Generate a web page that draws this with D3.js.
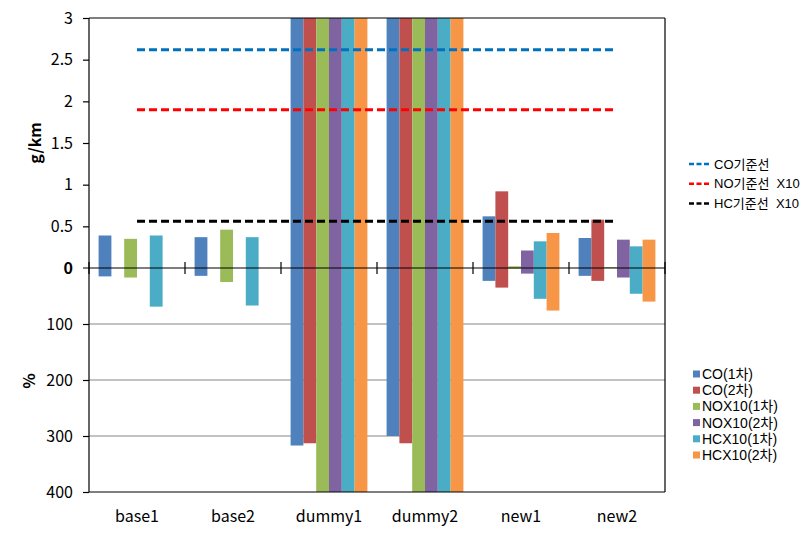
<!DOCTYPE html>
<html>
<head>
<meta charset="utf-8">
<script src="https://cdn.jsdelivr.net/npm/d3@7/dist/d3.min.js"></script>
<style>
  html, body { margin: 0; padding: 0; background: #fff; }
  svg { display: block; }
  text { font-family: "Malgun Gothic", "Noto Sans CJK KR", "Noto Sans", sans-serif; fill: #000; }
  .legend text { font-family: "Liberation Sans", "Noto Sans CJK KR", sans-serif; }
</style>
</head>
<body>
<svg id="chart" width="801" height="537"></svg>
<script>
// ---- data ----
const categories = ["base1", "base2", "dummy1", "dummy2", "new1", "new2"];
const seriesNames = ["CO(1차)", "CO(2차)", "NOX10(1차)", "NOX10(2차)", "HCX10(1차)", "HCX10(2차)"];
const seriesColors = ["#4F81BD", "#C0504D", "#9BBB59", "#8064A2", "#4BACC6", "#F79646"];
// upper panel, g/km (values above 3 run off the chart)
const gkmCO1   = [0.39, 0.37, 4, 4, 0.62, 0.36];
const gkmCO2   = [0, 0, 4, 4, 0.92, 0.58];
const gkmNOX1  = [0.35, 0.46, 4, 4, 0.02, 0.01];
const gkmNOX2  = [0, 0, 4, 4, 0.21, 0.34];
const gkmHC1   = [0.39, 0.37, 4, 4, 0.32, 0.26];
const gkmHC2   = [0, 0, 4, 4, 0.42, 0.34];
// lower panel, % (values above 400 run off the chart)
const pctCO1   = [15, 14, 317, 300, 23, 14];
const pctCO2   = [0, 0, 313, 313, 35, 23];
const pctNOX1  = [17, 25, 450, 450, 1, 0];
const pctNOX2  = [0, 0, 450, 450, 10, 17];
const pctHC1   = [69, 67, 450, 450, 55, 46];
const pctHC2   = [0, 0, 450, 450, 76, 60];
// reference lines
const refNames = ["CO기준선", "NO기준선  X10", "HC기준선  X10"];
const refValues = [2.62, 1.9, 0.56];
const refColors = ["#0070C0", "#FF0000", "#000000"];
// axis ticks
const topTicks = [0.5, 1, 1.5, 2, 2.5, 3];
const topTickLabels = ["0.5", "1", "1.5", "2", "2.5", "3"];
const botTicks = [100, 200, 300, 400];
const botTickLabels = ["100", "200", "300", "400"];

const gkmSeries = [gkmCO1, gkmCO2, gkmNOX1, gkmNOX2, gkmHC1, gkmHC2];
const pctSeries = [pctCO1, pctCO2, pctNOX1, pctNOX2, pctHC1, pctHC2];

// ---- layout ----
const L = 89, R = 665, T = 18, Z = 268, B = 492;
const svg = d3.select("#chart");

const x = d3.scaleBand().domain(categories).range([L, R]).padding(0);
const xs = d3.scaleBand().domain(seriesNames).range([0, x.bandwidth()]).paddingInner(0).paddingOuter(0.75);
const yTop = d3.scaleLinear().domain([0, 3]).range([Z, T]).clamp(true);
const yBot = d3.scaleLinear().domain([0, 400]).range([Z, B]).clamp(true);

// gridlines in lower panel
svg.append("g").selectAll("line").data(botTicks.slice(0, -1)).join("line")
  .attr("x1", L).attr("x2", R)
  .attr("y1", d => yBot(d)).attr("y2", d => yBot(d))
  .attr("stroke", "#868686").attr("stroke-width", 1);

// bars
const barData = [];
seriesNames.forEach((s, si) => {
  categories.forEach((c, ci) => {
    barData.push({ s, si, c, up: gkmSeries[si][ci], down: pctSeries[si][ci] });
  });
});
const gb = svg.append("g");
gb.selectAll("rect.up").data(barData.filter(d => d.up > 0)).join("rect")
  .attr("class", "up")
  .attr("x", d => x(d.c) + xs(d.s))
  .attr("width", xs.bandwidth())
  .attr("y", d => yTop(d.up))
  .attr("height", d => yTop(0) - yTop(d.up))
  .attr("fill", d => seriesColors[d.si]);
gb.selectAll("rect.down").data(barData.filter(d => d.down > 0)).join("rect")
  .attr("class", "down")
  .attr("x", d => x(d.c) + xs(d.s))
  .attr("width", xs.bandwidth())
  .attr("y", yBot(0))
  .attr("height", d => yBot(d.down) - yBot(0))
  .attr("fill", d => seriesColors[d.si]);

// reference lines
const refLine = d3.line().x(d => x(d.c) + x.bandwidth() / 2).y(d => yTop(d.v));
refValues.forEach((v, i) => {
  svg.append("path")
    .datum(categories.map(c => ({ c, v })))
    .attr("d", refLine)
    .attr("fill", "none")
    .attr("stroke", refColors[i])
    .attr("stroke-width", 3)
    .attr("stroke-dasharray", "8,4");
});

// frame
const frame = svg.append("g").attr("stroke", "#000").attr("stroke-width", 1.2);
frame.append("line").attr("x1", L).attr("x2", R).attr("y1", T).attr("y2", T);
frame.append("line").attr("x1", L).attr("x2", R).attr("y1", B).attr("y2", B);
frame.append("line").attr("x1", R).attr("x2", R).attr("y1", T).attr("y2", B);
frame.append("line").attr("x1", L).attr("x2", L).attr("y1", T).attr("y2", B);
// zero line
frame.append("line").attr("x1", L - 6).attr("x2", R).attr("y1", Z).attr("y2", Z);

// category ticks on zero line
svg.append("g").selectAll("line").data(categories.concat([null])).join("line")
  .attr("x1", (d, i) => i < categories.length ? x(d) : R)
  .attr("x2", (d, i) => i < categories.length ? x(d) : R)
  .attr("y1", Z - 6).attr("y2", Z + 6)
  .attr("stroke", "#000").attr("stroke-width", 1.2);

// left axes
const axTop = svg.append("g").attr("transform", `translate(${L},0)`)
  .call(d3.axisLeft(yTop).tickValues(topTicks).tickFormat((d, i) => topTickLabels[i]).tickSize(6).tickPadding(10));
const axBot = svg.append("g").attr("transform", `translate(${L},0)`)
  .call(d3.axisLeft(yBot).tickValues(botTicks).tickFormat((d, i) => botTickLabels[i]).tickSize(6).tickPadding(10));
[axTop, axBot].forEach(a => {
  a.select(".domain").remove();
  a.selectAll("line").attr("stroke", "#000").attr("stroke-width", 1.2);
  a.selectAll("text").attr("font-size", 16).attr("font-family", null);
});
// zero label
svg.append("text").attr("x", L - 16).attr("y", Z).attr("dy", "0.35em")
  .attr("text-anchor", "end").attr("font-size", 16).attr("font-weight", "bold").text("0");

// axis titles
svg.append("text").attr("transform", "translate(41,143) rotate(-90)")
  .attr("text-anchor", "middle").attr("font-size", 16).attr("font-weight", "bold").text("g/km");
svg.append("text").attr("transform", "translate(35,381) rotate(-90)")
  .attr("text-anchor", "middle").attr("font-size", 16).attr("font-weight", "bold").text("%");

// category labels
svg.append("g").selectAll("text").data(categories).join("text")
  .attr("x", d => x(d) + x.bandwidth() / 2).attr("y", 516).attr("dy", "0.35em")
  .attr("text-anchor", "middle").attr("font-size", 16).text(d => d);

// legend 1: reference lines
const lg1 = svg.append("g").attr("class", "legend");
refNames.forEach((n, i) => {
  const yy = 164 + i * 19.7;
  lg1.append("line").attr("x1", 689).attr("x2", 711).attr("y1", yy).attr("y2", yy)
    .attr("stroke", refColors[i]).attr("stroke-width", 2.5).attr("stroke-dasharray", "5,2.5");
  lg1.append("text").attr("x", 714).attr("y", yy).attr("dy", "0.35em")
    .attr("font-size", 13).style("white-space", "pre").text(n);
});

// legend 2: series
const lg2 = svg.append("g").attr("class", "legend");
seriesNames.forEach((n, i) => {
  const yy = 374 + i * 16.2;
  lg2.append("rect").attr("x", 693).attr("y", yy - 3.5).attr("width", 7).attr("height", 7)
    .attr("fill", seriesColors[i]);
  lg2.append("text").attr("x", 702).attr("y", yy).attr("dy", "0.35em")
    .attr("font-size", 14).text(n);
});
</script>
</body>
</html>
